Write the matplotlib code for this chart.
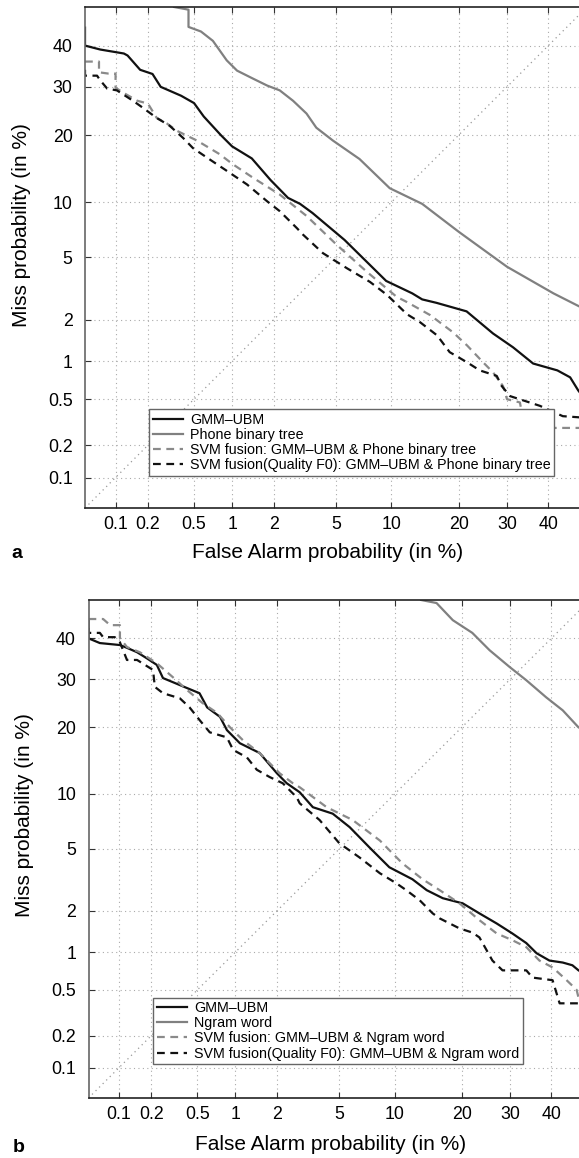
from statistics import NormalDist

import numpy as np
import matplotlib
matplotlib.use("Agg")
import matplotlib.pyplot as plt

plt.rcParams["font.family"] = ["Liberation Sans", "DejaVu Sans"]

# tick values (in %) shared by both panels
TICKS = [0.1, 0.2, 0.5, 1, 2, 5, 10, 20, 30, 40]
TICK_LABELS = ["0.1", "0.2", "0.5", "1", "2", "5", "10", "20", "30", "40"]
LIMITS = (0.05, 50)

# panel a: GMM-UBM vs phone binary tree (false alarm %, miss %)
a_gmm_fa = [0.05, 0.05, 0.071, 0.12, 0.13, 0.17, 0.22, 0.26, 0.39, 0.5, 0.6, 0.82, 1.0, 1.4, 1.9,
            2.5, 3.0, 3.6, 5.6, 9.4, 12.6, 14, 16.2, 21.5, 26.9, 31.4, 36.2, 42.3, 45.6, 47.7, 49.5]
a_gmm_miss = [44.6, 40, 39, 38, 37.5, 34, 33, 30, 28, 26.4, 23.6, 20, 18, 16, 12.8,
              10.5, 9.8, 8.8, 6.3, 3.6, 3.0, 2.74, 2.6, 2.28, 1.6, 1.27, 0.96, 0.85, 0.75, 0.59, 0.5]

a_tree_fa = [0.34, 0.45, 0.45, 0.57, 0.71, 0.91, 1.09, 1.43, 1.8, 2.2, 2.7, 3.3, 3.8, 4.8, 6.8,
             9.8, 14, 20, 30, 41.3, 48, 50]
a_tree_miss = [50, 49.3, 44.8, 43.6, 41.2, 36.3, 33.8, 31.9, 30.3, 29.2, 26.9, 24.2, 21.4, 19, 15.9,
               11.7, 9.8, 7, 4.4, 3.0, 2.46, 2.35]

a_fus_fa = [0.05, 0.069, 0.069, 0.085, 0.1, 0.1, 0.118, 0.16, 0.2, 0.24, 0.295, 0.36, 0.53, 0.8,
            1.01, 1.43, 2.2, 3.3, 5.06, 7.45, 10.6, 11.9, 15.2, 19, 21.6, 24.8, 26.9, 29.1, 30,
            33, 34.2, 49]
a_fus_miss = [36, 36, 33.4, 33.1, 33.1, 29.8, 28.7, 26.9, 26.3, 23.3, 22.2, 20.8, 19, 16.7,
              15.1, 13.1, 10.9, 8.5, 5.9, 4.1, 2.85, 2.63, 2.15, 1.63, 1.31, 0.98, 0.82, 0.64, 0.5,
              0.47, 0.285, 0.285]

a_fusq_fa = [0.05, 0.05, 0.066, 0.071, 0.083, 0.103, 0.146, 0.18, 0.24, 0.31, 0.405, 0.49, 0.64,
             0.91, 1.29, 1.8, 2.2, 2.87, 3.13, 4.17, 5.8, 7.74, 9.5, 11.9, 13.7, 16.3, 18.4, 21.6,
             24.1, 27.7, 28.8, 30.7, 37.9, 43.7, 49]
a_fusq_miss = [34, 32.6, 32.6, 31.5, 29.6, 29.2, 26.9, 25.4, 23.3, 21.8, 19.5, 17.7, 16.1,
               14.1, 12.2, 10.1, 9.0, 7.3, 6.75, 5.3, 4.3, 3.55, 2.93, 2.18, 1.92, 1.55, 1.17, 0.98,
               0.85, 0.77, 0.64, 0.53, 0.44, 0.36, 0.35]

# panel b: GMM-UBM vs Ngram word
b_gmm_fa = [0.05, 0.05, 0.065, 0.102, 0.119, 0.148, 0.182, 0.224, 0.254, 0.356, 0.52, 0.6, 0.76,
            0.86, 1.08, 1.51, 2.0, 2.33, 2.84, 3.45, 4.57, 5.74, 7.4, 9.4, 12.2, 14.2, 16.7, 20.2,
            23.4, 27, 30.5, 33.8, 36.3, 39.5, 42.9, 45.4, 47, 49.5]
b_gmm_miss = [44.7, 40, 38.8, 38.3, 37.6, 36.5, 35, 33.4, 30.3, 28.7, 26.9, 23.9, 22, 19.5, 17.2,
              15.6, 12.6, 11.3, 10.2, 8.55, 7.9, 6.67, 5.1, 3.87, 3.25, 2.76, 2.44, 2.25, 1.92,
              1.63, 1.38, 1.17, 0.98, 0.86, 0.83, 0.79, 0.72, 0.65]

b_ngram_fa = [13.4, 15.7, 18.4, 22, 25.5, 29.9, 33.8, 38.7, 42.9, 47, 50]
b_ngram_miss = [50, 49.2, 44.7, 41.4, 37, 32.9, 29.8, 26, 23.3, 20, 19]

b_fus_fa = [0.05, 0.07, 0.082, 0.102, 0.102, 0.119, 0.157, 0.224, 0.31, 0.41, 0.55, 0.72, 0.91,
            1.14, 1.51, 2.09, 2.56, 2.84, 4.2, 5.97, 8.4, 10.9, 13.6, 16.2, 19.6, 23.4, 27, 30.5,
            33.8, 37, 40.3, 43.9, 46.5, 47, 49.5]
b_fus_miss = [45, 45, 43.4, 43.4, 40.1, 37.8, 36.5, 33.8, 30.5, 27.6, 24.8, 22.8, 20, 17.7, 15.6,
              12.6, 11.3, 10.8, 8.55, 7.3, 5.6, 4.1, 3.25, 2.76, 2.25, 1.72, 1.38, 1.23, 1.09,
              0.86, 0.76, 0.6, 0.5, 0.43, 0.42]

b_fusq_fa = [0.05, 0.05, 0.065, 0.07, 0.091, 0.102, 0.119, 0.148, 0.207, 0.215, 0.254, 0.356,
             0.43, 0.52, 0.63, 0.86, 0.96, 1.22, 1.44, 1.78, 2.19, 2.72, 2.84, 3.8, 5.0, 6.5, 8.4,
             10.2, 11.4, 13.2, 15.1, 16.2, 19.6, 22, 23.4, 24.9, 26.1, 28.3, 33.8, 35.3, 40.3,
             41.3, 42.1, 49]
b_fusq_miss = [42.7, 41.4, 41.4, 40.3, 40.3, 39, 34.6, 34.6, 32.2, 28.3, 26.9, 25.8, 23.9, 21.4,
               19.1, 18.2, 16.1, 14.9, 13.1, 12.1, 11.3, 9.6, 8.96, 7.3, 5.4, 4.46, 3.55, 3.06,
               2.76, 2.36, 1.92, 1.77, 1.5, 1.4, 1.29, 1.03, 0.86, 0.72, 0.72, 0.63, 0.6, 0.47,
               0.385, 0.385]

A_LABELS = ["GMM\u2013UBM", "Phone binary tree",
            "SVM fusion: GMM\u2013UBM & Phone binary tree",
            "SVM fusion(Quality F0): GMM\u2013UBM & Phone binary tree"]
B_LABELS = ["GMM\u2013UBM", "Ngram word",
            "SVM fusion: GMM\u2013UBM & Ngram word",
            "SVM fusion(Quality F0): GMM\u2013UBM & Ngram word"]

_nd = NormalDist()
_ppf = np.vectorize(_nd.inv_cdf, otypes=[float])
_cdf = np.vectorize(_nd.cdf, otypes=[float])


def probit(p):
    p = np.clip(np.asarray(p, dtype=float) / 100.0, 1e-9, 1 - 1e-9)
    return _ppf(np.nan_to_num(p, nan=0.5))


def inv_probit(z):
    return _cdf(np.asarray(z, dtype=float)) * 100.0


def draw_panel(ax, curves, labels, legend_anchor, xlabel_pos, ylabel_pos):
    ax.set_xscale("function", functions=(probit, inv_probit))
    ax.set_yscale("function", functions=(probit, inv_probit))
    ax.set_xlim(*LIMITS)
    ax.set_ylim(*LIMITS)

    # equal error rate diagonal
    ax.plot(LIMITS, LIMITS, linestyle=(0, (1, 3)), color="#999999", linewidth=0.9)

    styles = [
        dict(color="#111111", linestyle="-", linewidth=1.6),
        dict(color="#808080", linestyle="-", linewidth=1.6),
        dict(color="#8a8a8a", linestyle=(0, (3.5, 2.5)), linewidth=1.6),
        dict(color="#111111", linestyle=(0, (3.5, 2.5)), linewidth=1.6),
    ]
    for (fa, miss), label, st in zip(curves, labels, styles):
        ax.plot(fa, miss, label=label, **st)

    ax.set_xticks(TICKS)
    ax.set_xticklabels(TICK_LABELS)
    ax.set_yticks(TICKS)
    ax.set_yticklabels(TICK_LABELS)
    ax.minorticks_off()
    ax.tick_params(axis="both", direction="in", length=4, top=True, right=True,
                   labelsize=12.8, color="#333333")
    ax.tick_params(axis="x", pad=6)
    ax.tick_params(axis="y", pad=9)
    ax.grid(True, linestyle=(0, (1, 3)), color="#aaaaaa", linewidth=0.8)

    for side in ["top", "bottom", "right"]:
        ax.spines[side].set_color("#222222")
    ax.spines["left"].set_color("#666666")
    for sp in ax.spines.values():
        sp.set_linewidth(1.2)

    ax.set_xlabel("False Alarm probability (in %)", fontsize=15)
    ax.set_ylabel("Miss probability (in %)", fontsize=15)
    ax.xaxis.set_label_coords(*xlabel_pos)
    ax.yaxis.set_label_coords(*ylabel_pos)
    ax.xaxis.label.set_verticalalignment("center")
    ax.yaxis.label.set_verticalalignment("center")

    leg = ax.legend(loc="lower left", bbox_to_anchor=legend_anchor, borderaxespad=0,
                    fontsize=10.3, labelspacing=0.08, handlelength=2.1, handletextpad=0.5,
                    borderpad=0.25, fancybox=False, framealpha=1, edgecolor="#666666")
    leg.get_frame().set_linewidth(1.0)


def main():
    W, H = 579, 1158
    fig = plt.figure(figsize=(W / 100, H / 100), dpi=100)

    ax_a = fig.add_axes([85 / W, (H - 508) / H, 502 / W, 501 / H])
    draw_panel(ax_a,
               [(a_gmm_fa, a_gmm_miss), (a_tree_fa, a_tree_miss),
                (a_fus_fa, a_fus_miss), (a_fusq_fa, a_fusq_miss)],
               A_LABELS, (0.1275, 0.064), (0.483, -0.0898), (-0.1255, 0.565))

    ax_b = fig.add_axes([88.5 / W, (H - 1098) / H, 501.5 / W, 498 / H])
    draw_panel(ax_b,
               [(b_gmm_fa, b_gmm_miss), (b_ngram_fa, b_ngram_miss),
                (b_fus_fa, b_fus_miss), (b_fusq_fa, b_fusq_miss)],
               B_LABELS, (0.1286, 0.068), (0.4826, -0.094), (-0.127, 0.568))

    fig.text(17 / W, 1 - 554 / H, "a", fontsize=14, fontweight="bold", ha="center", va="center")
    fig.text(19 / W, 1 - 1147 / H, "b", fontsize=14, fontweight="bold", ha="center", va="center")

    fig.savefig("out.png", dpi=100, facecolor="white")


if __name__ == "__main__":
    main()
